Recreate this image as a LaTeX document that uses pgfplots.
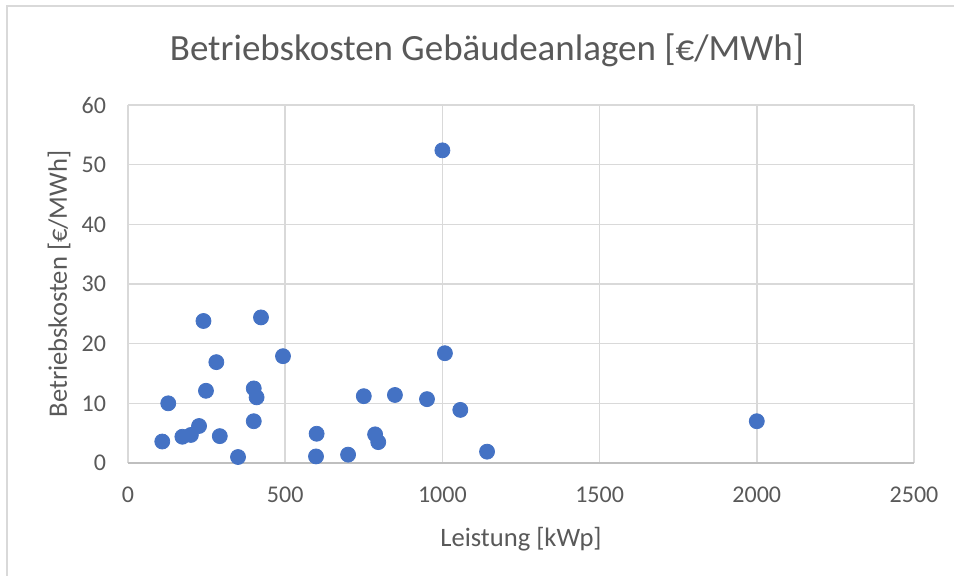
\documentclass[border=0pt]{standalone}
\usepackage{pgfplots}
\pgfplotsset{compat=1.18}
\usepackage{fontspec}
\setmainfont{Carlito}
\definecolor{txt}{HTML}{595959}
\definecolor{grd}{HTML}{D9D9D9}
\definecolor{axl}{HTML}{BFBFBF}
\definecolor{dot}{HTML}{4472C4}
\begin{document}
\begin{tikzpicture}
\useasboundingbox (-64pt,-56.5pt) rectangle (413pt,231.5pt);
\draw[grd, line width=0.75pt] (-60.5pt,-60pt) -- (-60.5pt,228.5pt) -- (420pt,228.5pt);
\begin{axis}[
  at={(0,0)}, anchor=south west,
  scale only axis, width=393pt, height=179pt,
  xmin=0, xmax=2500, ymin=0, ymax=60,
  xtick={0,500,...,2500}, ytick={0,10,...,60},
  axis x line*=bottom, axis y line*=left,
  x axis line style={draw=axl, line width=0.75pt, -},
  y axis line style={draw=none},
  major tick length=0pt,
  grid=major, major grid style={draw=grd, line width=0.75pt},
  /pgf/number format/assume math mode=true,
  /pgf/number format/1000 sep={},
  tick label style={font=\fontsize{12}{14}\selectfont, text=txt},
  xticklabel style={anchor=north, yshift=-8.5pt},
  yticklabel style={anchor=east, xshift=-7.5pt},
  clip=false,
]
\addplot[only marks, mark=*, mark size=3.75pt, mark options={draw=dot, fill=dot}] coordinates {
(109,3.6) (128,10.0) (173,4.4) (200,4.7) (226,6.2) (240,23.8) (248,12.1)
(281,16.9) (292,4.5) (350,1.0) (400,12.5) (400,7.0) (409,11.0) (423,24.4)
(493,17.9) (600,4.9) (598,1.1) (700,1.4) (750,11.2) (786,4.8) (796,3.5)
(849,11.4) (951,10.7) (1000,52.4) (1008,18.4) (1057,8.9) (1142,1.9) (2000,7.0)
};
\end{axis}
\node[text=txt, font=\fontsize{18.5}{22}\selectfont] at (179.5pt,206.5pt) {Betriebskosten Gebäudeanlagen [€/MWh]};
\node[text=txt, font=\fontsize{13.3}{16}\selectfont] at (196.5pt,-38pt) {Leistung [kWp]};
\node[text=txt, font=\fontsize{13.3}{16}\selectfont, rotate=90] at (-34.5pt,89.5pt) {Betriebskosten [€/MWh]};
\end{tikzpicture}
\end{document}
